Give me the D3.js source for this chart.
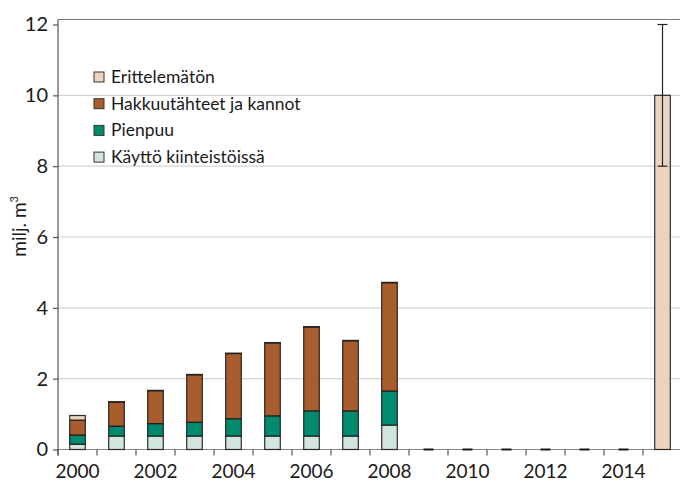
<!DOCTYPE html>
<html>
<head>
<meta charset="utf-8">
<script src="https://cdn.jsdelivr.net/npm/d3@7"></script>
<style>
  body { margin: 0; background: #fff; }
  svg { display: block; font-family: Lato, "DejaVu Sans", sans-serif; }
</style>
</head>
<body>
<script>
// values in milj. m3
const years = ["2000","2001","2002","2003","2004","2005","2006","2007","2008","2009","2010","2011","2012","2013","2014","2015"];
const kaytto = [0.15, 0.38, 0.38, 0.38, 0.38, 0.38, 0.38, 0.38, 0.69, 0, 0, 0, 0, 0, 0, 0];
const pienpuu = [0.26, 0.28, 0.35, 0.39, 0.49, 0.57, 0.71, 0.71, 0.96, 0, 0, 0, 0, 0, 0, 0];
const hakkuu = [0.42, 0.68, 0.93, 1.34, 1.84, 2.06, 2.37, 1.98, 3.06, 0, 0, 0, 0, 0, 0, 0];
const erittelematon = [0.13, 0.01, 0.01, 0.01, 0.01, 0.01, 0.01, 0.01, 0.01, 0, 0, 0, 0, 0, 0, 10];
const errorBars = [{year: "2015", low: 8, high: 12}];
const yTicks = [0, 2, 4, 6, 8, 10, 12];
const xLabels = ["2000","2002","2004","2006","2008","2010","2012","2014"];

const seriesNames = ["Käyttö kiinteistöissä", "Pienpuu", "Hakkuutähteet ja kannot", "Erittelemätön"];
const seriesColors = ["#d2e5dc", "#008a6e", "#a95c2d", "#ecd3bf"];

const width = 680, height = 481;
const margin = {top: 24.5, right: -2, bottom: 31.5, left: 58};
const frameTop = 19.5;

const svg = d3.select("body").append("svg")
    .attr("width", width)
    .attr("height", height);

let x = d3.scaleBand()
    .domain(years)
    .range([margin.left, width - margin.right])
    .paddingInner(0.6)
    .paddingOuter(0.3);

let y = d3.scaleLinear()
    .domain([0, 12])
    .range([height - margin.bottom, margin.top]);

// gridlines
svg.append("g")
    .selectAll("line")
    .data(yTicks.filter(d => d > 0 && d < 12))
    .join("line")
    .attr("x1", margin.left)
    .attr("x2", width)
    .attr("y1", d => y(d))
    .attr("y2", d => y(d))
    .attr("stroke", "#d4d4d4")
    .attr("stroke-width", 1.2);

// top frame line
svg.append("line")
    .attr("x1", margin.left).attr("x2", width)
    .attr("y1", frameTop).attr("y2", frameTop)
    .attr("stroke", "#777").attr("stroke-width", 1.2);

// x axis (ticks between bands)
let xAxis = svg.append("g");
xAxis.append("line")
    .attr("x1", margin.left).attr("x2", width)
    .attr("y1", y(0)).attr("y2", y(0))
    .attr("stroke", "#888").attr("stroke-width", 1.2);
let step = x.step();
xAxis.selectAll("line.tick")
    .data(d3.range(years.length + 1))
    .join("line")
    .attr("class", "tick")
    .attr("x1", i => margin.left + i * step)
    .attr("x2", i => margin.left + i * step)
    .attr("y1", y(0)).attr("y2", y(0) + 6)
    .attr("stroke", "#555").attr("stroke-width", 1.2);
xAxis.selectAll("text")
    .data(xLabels)
    .join("text")
    .attr("x", d => x(d) + x.bandwidth() / 2)
    .attr("y", y(0) + 28)
    .attr("text-anchor", "middle")
    .attr("font-size", 19)
    .attr("fill", "#1a1a1a")
    .text(d => d);

// stacked bars
let table = years.map((yr, i) => ({
    year: yr,
    [seriesNames[0]]: kaytto[i],
    [seriesNames[1]]: pienpuu[i],
    [seriesNames[2]]: hakkuu[i],
    [seriesNames[3]]: erittelematon[i]
}));
let stack = d3.stack().keys(seriesNames)(table);

let colour = d3.scaleOrdinal().domain(seriesNames).range(seriesColors);

svg.append("g")
    .selectAll("g")
    .data(stack)
    .join("g")
    .attr("fill", d => colour(d.key))
    .selectAll("rect")
    .data(d => d.filter(p => p[1] - p[0] > 0))
    .join("rect")
    .attr("x", d => x(d.data.year))
    .attr("width", x.bandwidth())
    .attr("y", d => y(d[1]))
    .attr("height", d => y(d[0]) - y(d[1]))
    .attr("stroke", "#1a1a1a")
    .attr("stroke-opacity", 0.9)
    .attr("stroke-width", 1.2);

// zero-value years drawn as short dashes on the axis
svg.append("g")
    .selectAll("line")
    .data(years.filter((yr, i) => kaytto[i] + pienpuu[i] + hakkuu[i] + erittelematon[i] === 0))
    .join("line")
    .attr("x1", d => x(d) + x.bandwidth() / 2 - 5)
    .attr("x2", d => x(d) + x.bandwidth() / 2 + 5)
    .attr("y1", y(0)).attr("y2", y(0))
    .attr("stroke", "#1a1a1a").attr("stroke-width", 2);

// error bar
let eb = svg.append("g").selectAll("g").data(errorBars).join("g")
    .attr("stroke", "#222").attr("stroke-width", 1.2);
eb.append("line")
    .attr("x1", d => x(d.year) + x.bandwidth() / 2)
    .attr("x2", d => x(d.year) + x.bandwidth() / 2)
    .attr("y1", d => y(d.low)).attr("y2", d => y(d.high));
eb.selectAll("line.cap")
    .data(d => [d.low, d.high].map(v => ({year: d.year, v})))
    .join("line")
    .attr("class", "cap")
    .attr("x1", d => x(d.year) + x.bandwidth() / 2 - 5)
    .attr("x2", d => x(d.year) + x.bandwidth() / 2 + 5)
    .attr("y1", d => y(d.v)).attr("y2", d => y(d.v));

// y axis
let yAxis = svg.append("g")
    .attr("transform", `translate(${margin.left},0)`)
    .call(d3.axisLeft(y).tickValues(yTicks).tickSize(5).tickPadding(5).tickFormat(d3.format("d")));
yAxis.select(".domain").remove();
yAxis.append("line")
    .attr("x1", 0).attr("x2", 0)
    .attr("y1", frameTop).attr("y2", y(0) + 6)
    .attr("stroke", "#555").attr("stroke-width", 1.2);
yAxis.selectAll(".tick line").attr("stroke", "#555").attr("stroke-width", 1.2);
yAxis.selectAll(".tick text")
    .attr("font-size", 20)
    .attr("font-family", "Lato, sans-serif")
    .attr("fill", "#1a1a1a");

// y title
let yTitle = svg.append("text")
    .attr("transform", `translate(26,${y(6.3)}) rotate(-90)`)
    .attr("text-anchor", "middle")
    .attr("font-size", 19)
    .attr("fill", "#1a1a1a");
yTitle.append("tspan").text("milj. m");
yTitle.append("tspan").attr("dy", -8).attr("font-size", 11).text("3");

// legend
let legendOrder = seriesNames.slice().reverse();
let legend = svg.append("g")
    .selectAll("g")
    .data(legendOrder)
    .join("g")
    .attr("transform", (d, i) => `translate(94,${77 + i * 26.7})`);
legend.append("rect")
    .attr("x", 0).attr("y", -5)
    .attr("width", 10).attr("height", 10)
    .attr("fill", d => colour(d))
    .attr("stroke", "#333").attr("stroke-width", 1);
legend.append("text")
    .attr("x", 17).attr("y", 6)
    .attr("font-size", 17.5)
    .attr("fill", "#1a1a1a")
    .text(d => d);
</script>
</body>
</html>
